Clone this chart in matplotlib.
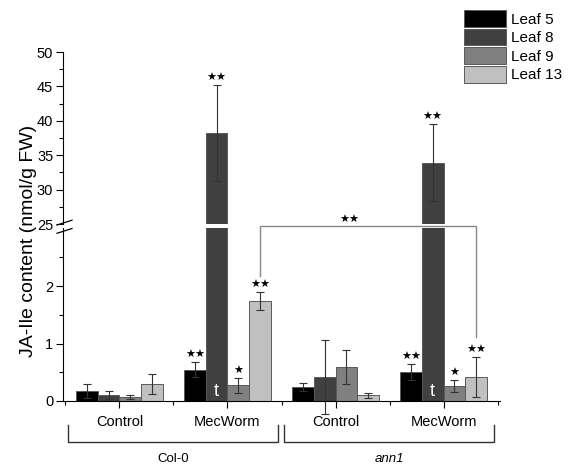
import numpy as np
import matplotlib
matplotlib.use('Agg')
import matplotlib.pyplot as plt
from matplotlib.lines import Line2D
from matplotlib.ticker import MultipleLocator, FixedLocator

plt.rcParams['font.family'] = ['Liberation Sans', 'DejaVu Sans']

# data
groups = ['Control', 'MecWorm', 'Control', 'MecWorm']
genotypes = ['Col-0', 'ann1']
leaves = ['Leaf 5', 'Leaf 8', 'Leaf 9', 'Leaf 13']
leaf5 = [0.18, 0.54, 0.24, 0.50]
leaf8 = [0.11, 38.2, 0.42, 33.9]
leaf9 = [0.07, 0.27, 0.59, 0.26]
leaf13 = [0.30, 1.74, 0.10, 0.42]
err5 = [0.12, 0.13, 0.07, 0.14]
err8 = [0.07, 7.0, 0.64, 5.6]
err9 = [0.03, 0.13, 0.30, 0.11]
err13 = [0.17, 0.15, 0.04, 0.35]
sig = [['', '', '', ''], ['**', '**', '*', '**'],
       ['', '', '', ''], ['**', '**', '*', '**']]
marked = ['', 't', '', '']  # letter inside the bar, MecWorm groups only

colors = ['#000000', '#404040', '#808080', '#c0c0c0']
values = [leaf5, leaf8, leaf9, leaf13]
errors = [err5, err8, err9, err13]

W, H = 576, 465
fig = plt.figure(figsize=(5.76, 4.65), dpi=100)
left, right = 63 / W, 500 / W
ax = fig.add_axes([left, 1 - 401 / H, right - left, (401 - 228.5) / H])
axu = fig.add_axes([left, 1 - 224 / H, right - left, (224 - 52) / H], sharex=ax)

x = np.arange(len(groups))
bw = 0.2
offs = (np.arange(4) - 1.5) * bw
low_top, up_bot = 3.0, 25

for i in range(4):
    v = np.array(values[i])
    e = np.array(errors[i])
    for a in (ax, axu):
        a.bar(x + offs[i], v, bw, color=colors[i], edgecolor='#5a5a5a',
              linewidth=0.7, label=leaves[i] if a is ax else None, zorder=2)
    small = v < low_top
    ax.errorbar((x + offs[i])[small], v[small], yerr=e[small], fmt='none',
                ecolor='#333333', elinewidth=0.8, capsize=3, capthick=0.8,
                clip_on=False, zorder=3)
    big = v > up_bot
    axu.errorbar((x + offs[i])[big], v[big], yerr=e[big], fmt='none',
                 ecolor='#333333', elinewidth=0.8, capsize=3, capthick=0.8,
                 zorder=3)
    for g in range(len(groups)):
        s = sig[g][i]
        if not s:
            continue
        top = v[g] + e[g]
        a = ax if top < low_top else axu
        a.annotate(s.replace('*', '★'), (x[g] + offs[i], top), xytext=(0, 1.5),
                   textcoords='offset points', ha='center', va='bottom',
                   fontsize=8, family=['DejaVu Sans'])
        if marked[i] and a is axu:
            ax.text(x[g] + offs[i], 0.02, marked[i], color='white',
                    ha='center', va='bottom', fontsize=13)

# axes styling
ax.set_xlim(-0.523, 3.523)
ax.set_ylim(0, low_top)
axu.set_ylim(up_bot, 50)
for a in (ax, axu):
    a.spines['top'].set_visible(False)
    a.spines['right'].set_visible(False)
    a.tick_params(direction='out', length=5, width=0.8, labelsize=10.5, pad=2)
    a.tick_params(which='minor', direction='out', length=3, width=0.8)
    a.patch.set_alpha(0)
axu.spines['bottom'].set_visible(False)
axu.tick_params(axis='x', which='both', bottom=False, labelbottom=False)
ax.yaxis.set_major_locator(FixedLocator([0, 1, 2]))
ax.yaxis.set_minor_locator(FixedLocator([0.5, 1.5, 2.5]))
axu.yaxis.set_major_locator(MultipleLocator(5))
axu.yaxis.set_minor_locator(MultipleLocator(2.5))
ax.set_xticks(x)
ax.set_xticklabels(groups, fontsize=10.5)
ax.set_xticks(np.arange(-0.5, 3.6, 1), minor=True)
ax.tick_params(axis='x', pad=5)

# break marks on the y axis
for y0 in (233.3, 225):
    fig.add_artist(Line2D([57 / W, 72 / W], [1 - y0 / H, 1 - (y0 - 4.8) / H],
                          color='black', lw=0.9))

fig.text(29 / W, 1 - 241 / H, 'JA-Ile content (nmol/g FW)', rotation=90,
         ha='center', va='center', fontsize=14)

# significance bracket between genotypes
yb = low_top + 0.04
xl, xr = x[1] + offs[3], x[3] + offs[3]
ax.plot([xl, xl, xr, xr], [leaf13[1] + err13[1] + 0.28, yb, yb, 1.12],
        color='#888888', lw=1, clip_on=False, zorder=1)
ax.text(2.13, yb + 0.02, '★★', ha='center', va='bottom', fontsize=8,
        family=['DejaVu Sans'])

# genotype brackets under the axis
tr = ax.get_xaxis_transform()
for k, name in enumerate(genotypes):
    x0 = x[2 * k] - 0.477
    x1 = x[2 * k + 1] + 0.47
    ax.plot([x0, x0, x1, x1], [-0.139, -0.236, -0.236, -0.139], color='#333333',
            lw=1, transform=tr, clip_on=False)
    ax.text((x0 + x1) / 2, -0.335, name, transform=tr, ha='center', va='center',
            fontsize=9.5, style='italic' if k == 1 else 'normal')

fig.legend(loc='upper left', bbox_to_anchor=(458 / W, 1 - 4 / H), frameon=False,
           fontsize=11, handlelength=2.75, handleheight=1.3, labelspacing=0.13,
           handletextpad=0.3, borderaxespad=0)

fig.savefig('out.png', dpi=100)
